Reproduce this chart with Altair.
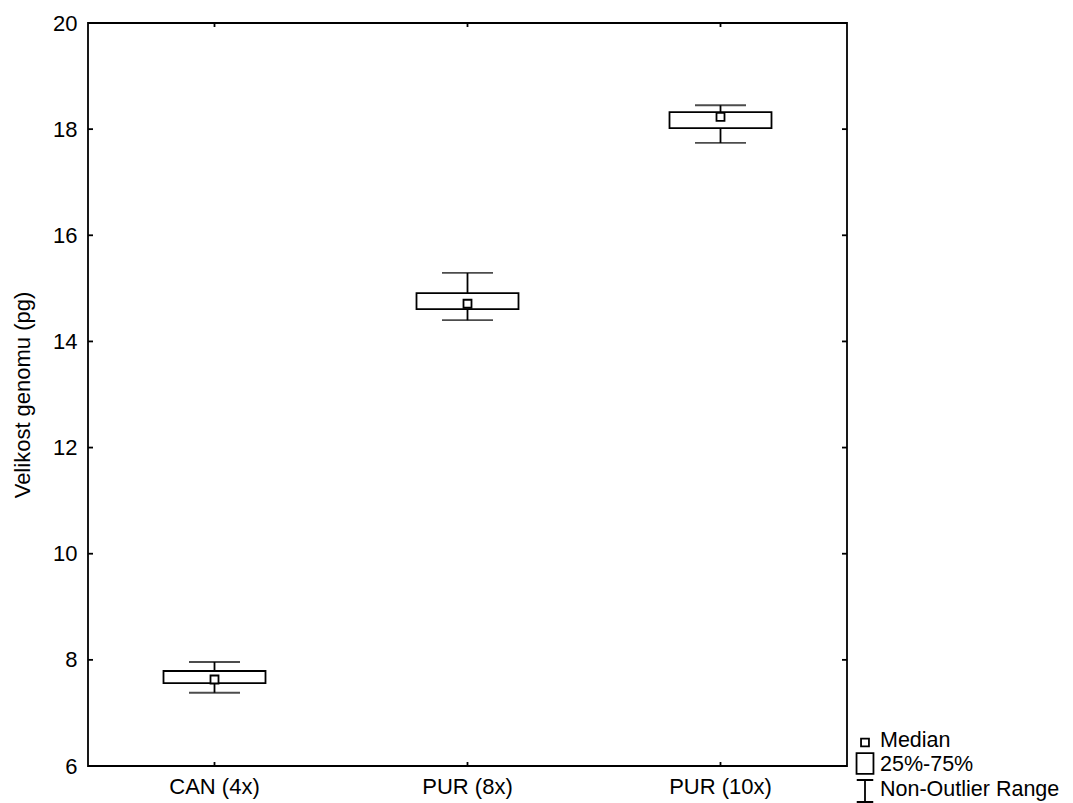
import altair as alt
import pandas as pd

categories = ["CAN (4x)", "PUR (8x)", "PUR (10x)"]
whisker_low = [7.38, 14.40, 17.74]
q1 = [7.56, 14.61, 18.02]
median = [7.63, 14.71, 18.23]
q3 = [7.79, 14.91, 18.32]
whisker_high = [7.96, 15.29, 18.45]
y_ticks = [6, 8, 10, 12, 14, 16, 18, 20]
legend_labels = ["Median", "25%-75%", "Non-Outlier Range"]

W, H = 759, 743
FONT = "Liberation Sans"
LW = 1.8

df = pd.DataFrame(dict(cat=categories, lo=whisker_low, q1=q1, med=median, q3=q3, hi=whisker_high))
tick_df = pd.DataFrame({"v": y_ticks})

xscale = alt.Scale(domain=categories, paddingInner=0, paddingOuter=0)
yscale = alt.Scale(domain=[6, 20], nice=False, zero=False)
xenc = alt.X("cat:N", scale=xscale, sort=categories,
             axis=alt.Axis(title=None, labelAngle=0, domain=False, ticks=False, grid=False,
                           labelPadding=10, labelFontSize=22, labelColor="black", labelFont=FONT))
yaxis = alt.Axis(title="Velikost genomu (pg)", values=y_ticks, domain=False, ticks=False, grid=False,
                 labelPadding=11, labelFontSize=22, labelColor="black", labelFont=FONT,
                 titleFontSize=22, titleFontWeight="normal", titleColor="black", titleFont=FONT,
                 titleX=-66, titleY=H / 2, titleAngle=-90, titleAlign="center", titleBaseline="middle")

base = alt.Chart(df)
whisk = base.mark_rule(color="black", strokeWidth=LW).encode(
    x=xenc, y=alt.Y("lo:Q", scale=yscale, axis=yaxis), y2="hi:Q")
box = base.mark_bar(fill="white", stroke="black", strokeWidth=LW, size=102).encode(
    x=xenc, y=alt.Y("q3:Q", scale=yscale, axis=yaxis), y2="q1:Q")
cap_lo = base.mark_tick(color="black", size=51, thickness=LW).encode(
    x=xenc, y=alt.Y("lo:Q", scale=yscale, axis=yaxis))
cap_hi = base.mark_tick(color="black", size=51, thickness=LW).encode(
    x=xenc, y=alt.Y("hi:Q", scale=yscale, axis=yaxis))
med = base.mark_square(size=64, fill="white", stroke="black", strokeWidth=LW, opacity=1).encode(
    x=xenc, y=alt.Y("med:Q", scale=yscale, axis=yaxis))

tl = alt.Chart(tick_df).mark_rule(color="black", strokeWidth=LW).encode(
    y=alt.Y("v:Q", scale=yscale, axis=yaxis), x=alt.value(0), x2=alt.value(5))
tr = alt.Chart(tick_df).mark_rule(color="black", strokeWidth=LW).encode(
    y=alt.Y("v:Q", scale=yscale, axis=yaxis), x=alt.value(W - 5), x2=alt.value(W))
tb = base.mark_rule(color="black", strokeWidth=LW).encode(
    x=xenc, y=alt.value(H - 4), y2=alt.value(H))
tt = base.mark_rule(color="black", strokeWidth=LW).encode(
    x=xenc, y=alt.value(0), y2=alt.value(4))

# legend (drawn manually, outside the plot area, lower right)
p_med = "M-0.36,-0.36H0.36V0.36H-0.36Z"
p_box = "M-0.77,-0.95H0.77V0.95H-0.77Z"
p_rng = "M-0.75,-1H0.75M0,-1V1M-0.75,1H0.75"
sym_paths = [p_med, p_box, p_rng]
sym_y = [719.5, 740.5, 768]
txt_y = [718, 742, 767]
sym_x, txt_x = 777, 792

legend_layers = []
for lab, path, sy, ty in zip(legend_labels, sym_paths, sym_y, txt_y):
    ldf = pd.DataFrame({"item": [lab]})
    legend_layers.append(
        alt.Chart(ldf).mark_point(shape=path, size=484, filled=True, fill="white", stroke="black",
                                  strokeWidth=LW, opacity=1).encode(x=alt.value(sym_x), y=alt.value(sy)))
    legend_layers.append(
        alt.Chart(ldf).mark_text(align="left", baseline="middle", fontSize=21.5, font=FONT, color="black")
        .encode(text="item:N", x=alt.value(txt_x), y=alt.value(ty)))

chart = alt.layer(whisk, box, cap_lo, cap_hi, med, tl, tr, tb, tt, *legend_layers).properties(
    width=W, height=H,
    autosize=alt.AutoSizeParams(type="none"),
    padding={"left": 80, "top": 15, "right": 218, "bottom": 37},
    background="white",
).configure_view(stroke="black", strokeWidth=LW)

chart.save("out.html", embed_options={"renderer": "svg", "actions": False})
